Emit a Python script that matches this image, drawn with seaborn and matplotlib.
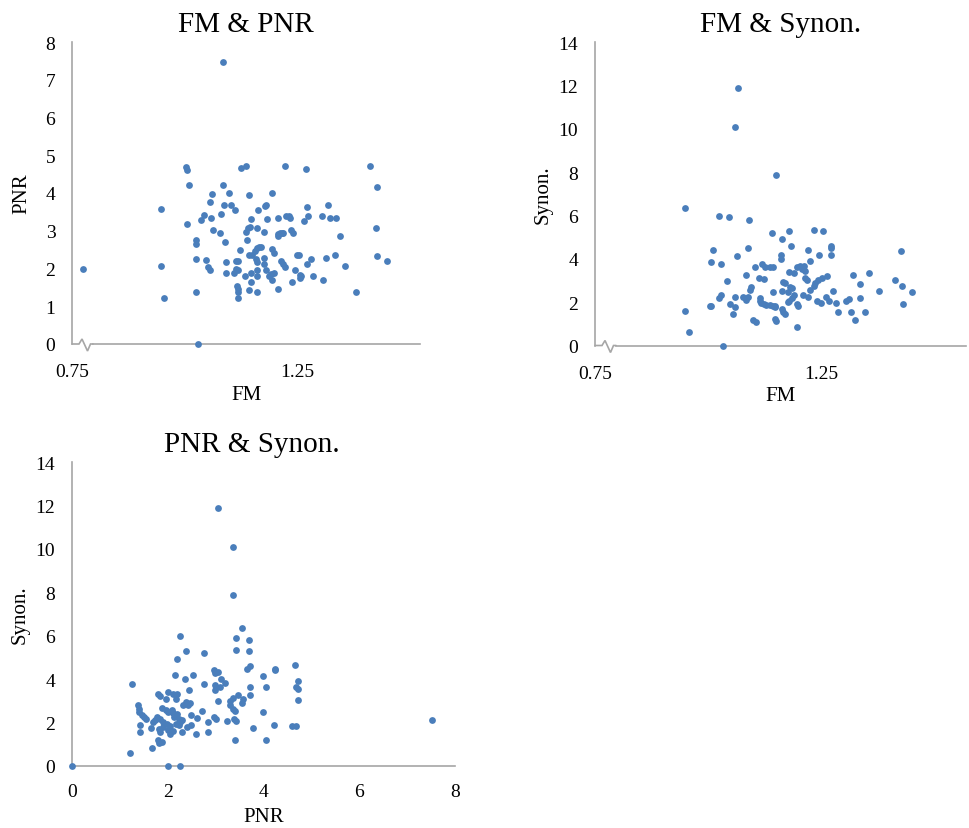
import matplotlib
matplotlib.use("Agg")
import matplotlib.pyplot as plt
import seaborn as sns
import numpy as np

# ---------------- data ----------------
# Panel 1: FM & PNR
fm_a = [1.086, 0.774, 0.948, 0.948, 0.954, 1.003, 1.005, 1.009, 1.005, 1.025,
        1.026, 1.026, 1.026, 1.029, 1.036, 1.043, 1.047, 1.053, 1.057, 1.057,
        1.060, 1.058, 1.064, 1.078, 1.080, 1.086, 1.088, 1.089, 1.091, 1.091,
        1.099, 1.102, 1.112, 1.110, 1.114, 1.115, 1.119, 1.116, 1.119, 1.119,
        1.119, 1.122, 1.119, 1.126, 1.137, 1.134, 1.136, 1.139, 1.143, 1.141,
        1.145, 1.143, 1.143, 1.147, 1.148, 1.147, 1.150, 1.156, 1.160, 1.166,
        1.170, 1.158, 1.160, 1.160, 1.160, 1.161, 1.160, 1.164, 1.176, 1.176,
        1.176, 1.180, 1.178, 1.180, 1.184, 1.187, 1.192, 1.195, 1.195, 1.195,
        1.198, 1.198, 1.208, 1.208, 1.212, 1.217, 1.219, 1.208, 1.208, 1.215,
        1.219, 1.223, 1.223, 1.226, 1.232, 1.234, 1.237, 1.241, 1.239, 1.245,
        1.250, 1.255, 1.256, 1.259, 1.257, 1.266, 1.270, 1.271, 1.274, 1.271,
        1.281, 1.285, 1.305, 1.308, 1.315, 1.319, 1.322, 1.337, 1.333, 1.346,
        1.357, 1.381, 1.411, 1.428, 1.425, 1.428, 1.449]
pnr_a = [7.48, 2.00, 3.57, 2.07, 1.22, 4.69, 4.60, 4.22, 3.19, 2.76,
         2.65, 2.25, 1.38, 0.00, 3.28, 3.41, 2.22, 2.05, 1.96, 3.77,
         3.97, 3.35, 3.02, 2.94, 3.44, 4.22, 3.69, 2.69, 2.16, 1.87,
         4.01, 3.69, 3.55, 1.88, 1.98, 2.20, 2.20, 1.53, 1.46, 1.37,
         1.22, 2.50, 1.97, 4.67, 4.72, 1.81, 2.98, 2.75, 3.94, 3.06,
         3.10, 2.36, 1.43, 3.31, 1.88, 1.63, 2.35, 2.47, 2.53, 2.56,
         2.58, 2.25, 2.16, 3.06, 1.97, 1.81, 1.38, 3.55, 2.98, 2.28,
         2.12, 1.96, 3.65, 3.68, 3.31, 1.81, 1.85, 1.70, 4.01, 2.51,
         2.41, 1.87, 3.35, 2.91, 2.95, 2.95, 2.94, 2.85, 1.47, 2.20,
         2.13, 2.05, 4.72, 3.40, 3.40, 3.35, 3.02, 2.95, 1.63, 1.97,
         2.36, 2.36, 1.83, 1.79, 1.74, 3.26, 4.63, 3.64, 3.40, 2.12,
         2.25, 1.79, 3.40, 1.70, 2.28, 3.69, 3.35, 3.35, 2.36, 2.87,
         2.07, 1.38, 4.72, 4.17, 3.07, 2.32, 2.20]

# Panel 2: FM & Synon.
fm_b = [1.066, 1.060, 1.151, 0.949, 1.024, 1.046, 1.090, 1.142, 1.179, 1.234,
        1.254, 1.163, 1.183, 1.088, 1.012, 1.221, 1.272, 1.272, 1.272, 1.427,
        1.063, 1.162, 1.161, 1.245, 1.225, 1.007, 1.028, 1.104, 1.120, 1.127,
        1.137, 1.144, 1.196, 1.204, 1.212, 1.208, 1.215, 1.179, 1.190, 1.320,
        1.357, 1.083, 1.113, 1.124, 1.214, 1.218, 1.262, 1.252, 1.243, 1.237,
        1.234, 1.226, 1.042, 1.166, 1.170, 1.335, 1.413, 1.430, 1.096, 1.093,
        1.181, 1.186, 1.177, 1.143, 1.163, 1.276, 1.379, 1.451, 1.028, 1.024,
        1.060, 1.077, 1.083, 1.088, 1.115, 1.115, 1.118, 1.124, 1.129, 1.138,
        1.144, 1.149, 1.190, 1.185, 1.179, 1.176, 1.210, 1.221, 1.240, 1.250,
        1.260, 1.268, 1.283, 1.305, 1.311, 1.337, 1.431, 0.949, 0.957, 1.032,
        1.004, 1.007, 1.049, 1.059, 1.056, 1.099, 1.107, 1.148, 1.149, 1.151,
        1.163, 1.166, 1.171, 1.197, 1.200, 1.196, 1.287, 1.316, 1.324, 1.348]
syn_b = [11.88, 10.08, 7.86, 6.35, 5.99, 5.91, 5.79, 5.19, 5.27, 5.34,
         5.27, 4.91, 4.60, 4.48, 4.42, 4.42, 4.60, 4.48, 4.17, 4.34,
         4.11, 4.17, 3.99, 4.17, 3.90, 3.84, 3.76, 3.64, 3.76, 3.64,
         3.61, 3.61, 3.61, 3.68, 3.68, 3.53, 3.45, 3.40, 3.34, 3.27,
         3.34, 3.25, 3.11, 3.07, 3.10, 3.02, 3.19, 3.11, 3.02, 2.88,
         2.76, 2.56, 2.96, 2.91, 2.88, 2.84, 3.04, 2.76, 2.68, 2.56,
         2.68, 2.64, 2.48, 2.45, 2.53, 2.53, 2.53, 2.46, 2.34, 2.19,
         2.25, 2.25, 2.10, 2.22, 2.18, 2.07, 1.95, 1.92, 1.87, 1.87,
         1.81, 1.84, 2.33, 2.18, 2.07, 1.99, 2.34, 2.25, 2.07, 1.96,
         2.25, 2.07, 1.96, 2.07, 2.15, 2.19, 1.92, 1.61, 0.61, 0.00,
         1.84, 1.84, 1.92, 1.76, 1.45, 1.19, 1.07, 1.76, 1.22, 1.14,
         1.68, 1.56, 1.45, 0.84, 1.81, 1.92, 1.53, 1.53, 1.18, 1.53]

# Panel 3: PNR & Synon.
pnr_c = [3.04, 3.36, 3.36, 3.56, 2.26, 3.43, 3.69, 3.43, 3.69, 2.39,
         2.75, 2.19, 4.66, 3.71, 3.65, 4.24, 4.24, 2.97, 3.06, 2.98,
         2.16, 2.52, 3.98, 2.35, 4.73, 3.11, 3.20, 1.25, 2.75, 2.99,
         3.10, 2.98, 3.72, 4.05, 4.68, 4.73, 2.45, 1.80, 1.83, 2.00,
         2.11, 2.19, 3.46, 3.36, 3.31, 3.71, 3.57, 3.55, 1.96, 2.17,
         4.73, 3.06, 2.39, 2.47, 2.42, 2.32, 1.37, 1.39, 1.39, 3.31,
         3.36, 3.41, 1.89, 1.96, 2.00, 2.09, 2.12, 2.71, 3.98, 1.46,
         1.51, 1.55, 1.77, 1.74, 1.70, 2.19, 2.14, 2.23, 2.18, 2.26,
         2.30, 2.24, 2.49, 2.61, 2.97, 3.01, 1.84, 1.91, 1.98, 2.04,
         3.24, 3.38, 3.43, 2.84, 4.21, 1.41, 1.43, 1.65, 1.81, 1.84,
         1.91, 2.00, 2.11, 2.05, 2.40, 2.48, 2.30, 2.59, 2.85, 3.79,
         4.59, 4.68, 1.80, 1.88, 1.81, 1.67, 1.22, 3.40, 4.05, 7.53,
         0.00, 2.00, 2.26]
syn_c = [11.89, 10.09, 7.86, 6.36, 5.99, 5.91, 5.79, 5.36, 5.28, 5.28,
         5.21, 4.92, 4.64, 4.61, 4.49, 4.49, 4.41, 4.41, 4.33, 4.26,
         4.21, 4.21, 4.13, 3.99, 3.92, 4.02, 3.84, 3.78, 3.78, 3.72,
         3.64, 3.49, 3.63, 3.63, 3.64, 3.53, 3.49, 3.33, 3.23, 3.41,
         3.33, 3.30, 3.26, 3.13, 2.99, 3.26, 3.07, 2.90, 3.07, 3.07,
         3.06, 2.98, 2.95, 2.90, 2.80, 2.80, 2.80, 2.64, 2.49, 2.80,
         2.64, 2.53, 2.69, 2.60, 2.49, 2.57, 2.44, 2.53, 2.49, 2.37,
         2.26, 2.15, 2.26, 2.10, 2.03, 2.41, 2.26, 2.18, 1.95, 2.03,
         2.10, 1.90, 2.33, 2.21, 2.26, 2.18, 2.18, 2.03, 1.95, 1.84,
         2.06, 2.18, 2.06, 2.03, 1.90, 1.87, 1.57, 1.75, 1.69, 1.57,
         1.80, 1.64, 1.61, 1.49, 1.80, 1.90, 1.57, 1.49, 1.57, 1.75,
         1.84, 1.84, 1.21, 1.11, 1.06, 0.83, 0.61, 1.18, 1.18, 2.12,
         0.00, 0.00, 0.00]

fm_ticks = [0.75, 1.25]
fm_tick_labels = ["0.75", "1.25"]
pnr_ticks_y = [0, 1, 2, 3, 4, 5, 6, 7, 8]
syn_ticks = [0, 2, 4, 6, 8, 10, 12, 14]
pnr_ticks_x = [0, 2, 4, 6, 8]

titles = ["FM & PNR", "FM & Synon.", "PNR & Synon."]

# ---------------- style ----------------
sns.set_style("white")
plt.rcParams["font.family"] = ["Liberation Serif", "DejaVu Serif"]
plt.rcParams["text.color"] = "black"
plt.rcParams["axes.labelcolor"] = "black"

W, H = 969, 829
fig = plt.figure(figsize=(W / 100, H / 100), dpi=100)

DOT = "#4A7EBB"
AX = "#A6A6A6"


def make_axes(left, top, right, bottom):
    return fig.add_axes([left / W, 1 - bottom / H, (right - left) / W, (bottom - top) / H])


def style(ax, ylabel_pad):
    for s in ["top", "right"]:
        ax.spines[s].set_visible(False)
    for s in ["left", "bottom"]:
        ax.spines[s].set_color(AX)
        ax.spines[s].set_linewidth(1.2)
    ax.tick_params(axis="both", length=0, labelsize=14, colors="black", pad=12)
    ax.tick_params(axis="x", pad=14)
    ax.xaxis.label.set_size(15)
    ax.yaxis.label.set_size(15)
    ax.yaxis.labelpad = ylabel_pad
    ax.xaxis.labelpad = 3
    ax.grid(False)


def axis_break(ax):
    # zig-zag on the x-axis next to the y-axis (pixel offsets from the corner)
    bb = ax.get_position()
    wpx = bb.width * W
    hpx = bb.height * H
    px = np.array([0, 7, 10, 15.5, 18.5, 21])
    py = np.array([0, 0, 5, -7, 0, 0])
    ax.plot(px / wpx, py / hpx, transform=ax.transAxes, color=AX, lw=1.2,
            clip_on=False, solid_joinstyle="miter")
    x0, x1 = ax.get_xlim()
    ax.spines["bottom"].set_bounds(x0 + (21 / wpx) * (x1 - x0), x1)


def scatter(ax, x, y):
    sns.scatterplot(x=x, y=y, ax=ax, color=DOT, s=24, linewidth=0,
                    edgecolor=DOT, clip_on=False, legend=False, zorder=3)


# Panel 1
ax1 = make_axes(72, 43, 420, 345)
scatter(ax1, fm_a, pnr_a)
ax1.set_xlim(0.75, 0.75 + (420 - 70.7) / 452)
ax1.set_ylim(0, 8)
ax1.set_xticks(fm_ticks)
ax1.set_xticklabels(fm_tick_labels)
ax1.set_yticks(pnr_ticks_y)
ax1.set_xlabel("FM")
ax1.set_ylabel("PNR")
style(ax1, 10)
ax1.set_title(titles[0], fontsize=21, pad=8)
axis_break(ax1)

# Panel 2
ax2 = make_axes(595, 43, 966, 346.5)
scatter(ax2, fm_b, syn_b)
ax2.set_xlim(0.75, 0.75 + (966 - 594) / 453.4)
ax2.set_ylim(0, 14)
ax2.set_xticks(fm_ticks)
ax2.set_xticklabels(fm_tick_labels)
ax2.set_yticks(syn_ticks)
ax2.set_xlabel("FM")
ax2.set_ylabel("Synon.")
style(ax2, 4)
ax2.set_title(titles[1], fontsize=21, pad=8)
axis_break(ax2)

# Panel 3
ax3 = make_axes(72, 463, 455, 767)
scatter(ax3, pnr_c, syn_c)
ax3.set_xlim(0, 8)
ax3.set_ylim(0, 14)
ax3.set_xticks(pnr_ticks_x)
ax3.set_yticks(syn_ticks)
ax3.set_xlabel("PNR")
ax3.set_ylabel("Synon.")
style(ax3, 4)
ax3.tick_params(axis="x", pad=12)
ax3.xaxis.labelpad = 5
ax3.set_title(titles[2], fontsize=21, pad=8, x=0.47)

fig.savefig("out.png", dpi=100, facecolor="white")
